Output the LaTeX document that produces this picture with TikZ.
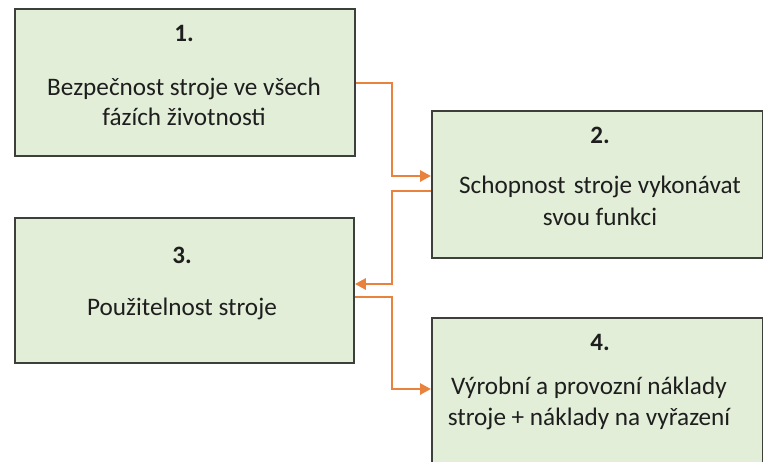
\documentclass[tikz,border=0pt]{standalone}
\usepackage{fontspec}
\setmainfont{Carlito}
\usetikzlibrary{arrows.meta}
\definecolor{boxfill}{HTML}{E2EED8}
\definecolor{boxline}{HTML}{3C3F3A}
\definecolor{conn}{HTML}{E8823C}
\definecolor{txt}{HTML}{1E1E1E}
\begin{document}
\begin{tikzpicture}[x=1pt,y=-1pt,
  box/.style={draw=boxline,fill=boxfill,line width=1.9pt,inner sep=0pt,anchor=north west},
  num/.style={font=\fontsize{25}{30}\selectfont\bfseries,text=txt,inner sep=0pt,anchor=base},
  lbl/.style={font=\fontsize{25.2}{30}\selectfont,text=txt,inner sep=0pt,anchor=base},
  arr/.style={draw=conn,line width=2.9pt,-{Triangle[length=11pt,width=11pt]}}]
\useasboundingbox (0,0) rectangle (763,461);
\clip (0,0) rectangle (763,461);
% boxes
\node[box,minimum width=340pt,minimum height=147pt] (b1) at (14,8) {};
\node[box,minimum width=331pt,minimum height=147pt] (b2) at (431,110) {};
\node[box,minimum width=339pt,minimum height=145pt] (b3) at (14,217) {};
\node[box,minimum width=331pt,minimum height=200pt] (b4) at (431,317) {};
% texts
\node[num] (n1) at (184,41) {1.};
\node[lbl] (t1a) at (184,95) {Bezpečnost stroje ve všech};
\node[lbl] (t1b) at (184,125) {fázích životnosti};
\node[num] (n2) at (600,143) {2.};
\node[lbl] (t2a) at (600,193) {Schopnost\hspace{2.5pt} stroje vykonávat};
\node[lbl] (t2b) at (600,225) {svou funkci};
\node[num] (n3) at (182,263) {3.};
\node[lbl] (t3a) at (182,315) {Použitelnost stroje};
\node[num] (n4) at (600,350) {4.};
\node[lbl] (t4a) at (589,394) {Výrobní a provozní náklady};
\node[lbl] (t4b) at (589,425) {stroje + náklady na vyřazení};
% routing coordinates
\coordinate (v) at (392,0);
\coordinate (h1) at (0,83);
\coordinate (h2) at (0,176);
\coordinate (h3) at (0,191);
\coordinate (h4) at (0,284);
\coordinate (h5) at (0,297);
\coordinate (h6) at (0,389);
% connectors
\draw[arr] (b1.east |- h1) -- (h1 -| v) |- (b2.west |- h2);
\draw[arr] (b2.west |- h3) -- (h3 -| v) |- (b3.east |- h4);
\draw[arr] (b3.east |- h5) -- (h5 -| v) |- (b4.west |- h6);
\end{tikzpicture}
\end{document}
